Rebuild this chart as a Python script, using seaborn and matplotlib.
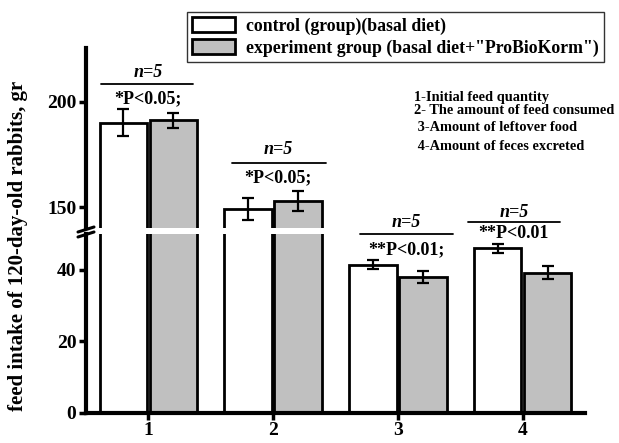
import pandas as pd
import seaborn as sns
import matplotlib.pyplot as plt
from matplotlib.patches import Patch
from matplotlib.lines import Line2D

# values
items = ["1", "2", "3", "4"]
groups = ["control (group)(basal diet)", 'experiment group (basal diet+"ProBioKorm")']
control_mean = [190.0, 148.9, 41.4, 46.0]
control_err = [6.4, 5.2, 1.3, 1.3]
exp_mean = [191.3, 152.9, 38.0, 39.2]
exp_err = [3.6, 4.7, 1.7, 1.9]
n_labels = ["n=5", "n=5", "n=5", "n=5"]
p_labels = ["*P<0.05;", "*P<0.05;", "**P<0.01;", "**P<0.01"]
notes = ["1-Initial feed quantity", "2- The amount of feed consumed",
         " 3-Amount of leftover food", " 4-Amount of feces excreted"]
colors = ["white", "#c0c0c0"]

df = pd.DataFrame({
    "item": items * 2,
    "value": control_mean + exp_mean,
    "group": [groups[0]] * 4 + [groups[1]] * 4,
})

sns.set_style("ticks")
plt.rcParams["font.family"] = ["Liberation Serif", "DejaVu Serif"]
plt.rcParams["font.weight"] = "bold"
for k in ("text.color", "axes.labelcolor", "xtick.color", "ytick.color",
          "axes.edgecolor"):
    plt.rcParams[k] = "black"

fig = plt.figure(figsize=(6.19, 4.43), dpi=100)
ax_top = fig.add_axes([0.139, 0.485, 0.806, 0.406])
ax_bot = fig.add_axes([0.139, 0.0684, 0.806, 0.4036])

for ax in (ax_top, ax_bot):
    sns.barplot(data=df, x="item", y="value", hue="group", order=items,
                hue_order=groups, palette=colors, edgecolor="black",
                linewidth=2, width=0.8, gap=0.05, errorbar=None,
                legend=False, ax=ax)
    for cont, errs in zip(ax.containers, [control_err, exp_err]):
        xs = [b.get_x() + b.get_width() / 2 for b in cont]
        ys = [b.get_height() for b in cont]
        ax.errorbar(xs, ys, yerr=errs, fmt="none", ecolor="black",
                    elinewidth=1.6, capsize=4.5, capthick=1.6, zorder=3)
    ax.set_xlim(-0.5, 3.5)
    ax.set_xlabel("")
    ax.set_ylabel("")
    for s in ("top", "right"):
        ax.spines[s].set_visible(False)
    ax.spines["left"].set_linewidth(3)
    ax.spines["bottom"].set_linewidth(3)
    ax.tick_params(direction="out", length=5, width=2.5, pad=2)
    ax.tick_params(axis="y", labelsize=14)
    ax.tick_params(axis="x", labelsize=14)

ax_top.set_ylim(140, 225.4)
ax_top.set_yticks([150, 200])
ax_top.spines["bottom"].set_visible(False)
ax_top.tick_params(axis="x", bottom=False, labelbottom=False)

ax_bot.set_ylim(0, 50)
ax_bot.set_yticks([0, 20, 40])
ax_bot.tick_params(axis="x", pad=2)
for ax in (ax_top, ax_bot):
    for lab in ax.get_yticklabels() + ax.get_xticklabels():
        lab.set_fontweight("bold")

# axis break marks
W, H = 619, 443
for y0 in (232, 237):
    fig.add_artist(Line2D([78 / W, 94 / W], [1 - y0 / H, 1 - (y0 - 5) / H],
                          color="black", lw=2.2))

# significance annotations (data coords of the axes they sit on)
ann = [
    (ax_top, 0.0, -0.38, 0.36, 208.3, 214.1, 201.3),
    (ax_top, 1.04, 0.67, 1.42, 171.1, 177.5, 163.7),
    (ax_bot, 2.07, 1.70, 2.44, 50.0, 53.1, 45.6),
    (ax_bot, 2.93, 2.56, 3.30, 53.3, 56.0, 50.0),
]
for (ax, xc, x0, x1, yl, yn, yp), nl, pl in zip(ann, n_labels, p_labels):
    ax.plot([x0, x1], [yl, yl], color="black", lw=1.3, clip_on=False)
    ax.text(xc, yn, nl, ha="center", va="center", fontsize=13,
            style="italic", fontweight="bold", clip_on=False)
    ax.text(xc, yp, pl, ha="center", va="center", fontsize=13,
            fontweight="bold", clip_on=False)

# notes on the right
for txt, y in zip(notes, [97, 110, 128, 147]):
    fig.text(414 / W, 1 - y / H, txt, fontsize=10.4, fontweight="bold",
             va="center", ha="left")

# y label
fig.text(0.029, 0.445, "feed intake of 120-day-old rabbits, gr", rotation=90,
         ha="center", va="center", fontsize=15, fontweight="bold")

handles = [Patch(facecolor=c, edgecolor="black", linewidth=2) for c in colors]
leg = fig.legend(handles, groups, loc="upper left",
                 bbox_to_anchor=(187 / W, 1 - 12 / H), frameon=True,
                 fancybox=False, edgecolor="#333333", framealpha=1,
                 prop={"size": 12.8, "weight": "bold"}, handlelength=2.4,
                 handleheight=0.9, borderpad=0.3, labelspacing=0.25,
                 handletextpad=0.6, borderaxespad=0)
leg.get_frame().set_linewidth(1)

fig.savefig("out.png", dpi=100)
